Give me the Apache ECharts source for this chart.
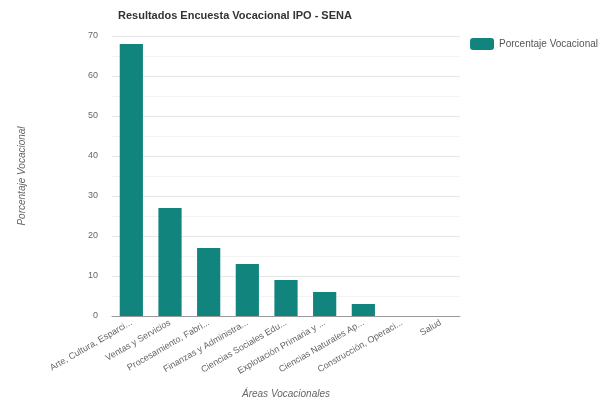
<!DOCTYPE html>
<html><head><meta charset="utf-8">
<script src="https://cdn.jsdelivr.net/npm/echarts@6/dist/echarts.min.js"></script>
<style>html,body{margin:0;padding:0;background:#fff}#c{width:605px;height:405px}</style>
</head><body><div id="c"></div>
<script>
var categories = ["Arte, Cultura, Esparci...", "Ventas y Servicios", "Procesamiento, Fabri...", "Finanzas y Administra...", "Ciencias Sociales Edu...", "Explotación Primaria y ...", "Ciencias Naturales Ap...", "Construcción, Operaci...", "Salud"];
var values = [68, 27, 17, 13, 9, 6, 3, 0, 0];
var seriesName = "Porcentaje Vocacional";
var chart = echarts.init(document.getElementById('c'));
chart.setOption({
  animation: false,
  title: { text: "Resultados Encuesta Vocacional IPO - SENA", left: 113, top: 5,
    textStyle: { fontSize: 11, fontWeight: 'bold', color: '#333', fontFamily: 'Liberation Sans' } },
  legend: { right: 2, top: 33, orient: 'vertical', itemWidth: 24, itemHeight: 12, itemGap: 5,
    textStyle: { fontSize: 10, color: '#555', fontFamily: 'Liberation Sans' }, data: [seriesName] },
  grid: { left: 112, right: 145, top: 36, bottom: 89 },
  xAxis: { type: 'category', data: categories,
    name: "Áreas Vocacionales", nameLocation: 'middle', nameGap: 73,
    nameTextStyle: { fontSize: 10, fontStyle: 'italic', color: '#666', fontFamily: 'Liberation Sans' },
    axisLine: { lineStyle: { color: '#999' } }, axisTick: { show: false },
    axisLabel: { rotate: 30, interval: 0, fontSize: 9, color: '#666', margin: 6, fontFamily: 'Liberation Sans' } },
  yAxis: { type: 'value', min: 0, max: 70, interval: 10,
    name: "Porcentaje Vocacional", nameLocation: 'middle', nameGap: 85,
    nameTextStyle: { fontSize: 10, fontStyle: 'italic', color: '#666', fontFamily: 'Liberation Sans' },
    axisLabel: { fontSize: 9, color: '#666', margin: 14, fontFamily: 'Liberation Sans' },
    axisLine: { show: false }, axisTick: { show: false },
    splitLine: { lineStyle: { color: '#e6e6e6' } },
    minorTick: { show: false, splitNumber: 2 },
    minorSplitLine: { show: true, lineStyle: { color: '#f3f3f3' } } },
  series: [{ name: seriesName, type: 'bar', data: values, barWidth: '60%',
    itemStyle: { color: '#11847e' } }]
});
</script></body></html>
